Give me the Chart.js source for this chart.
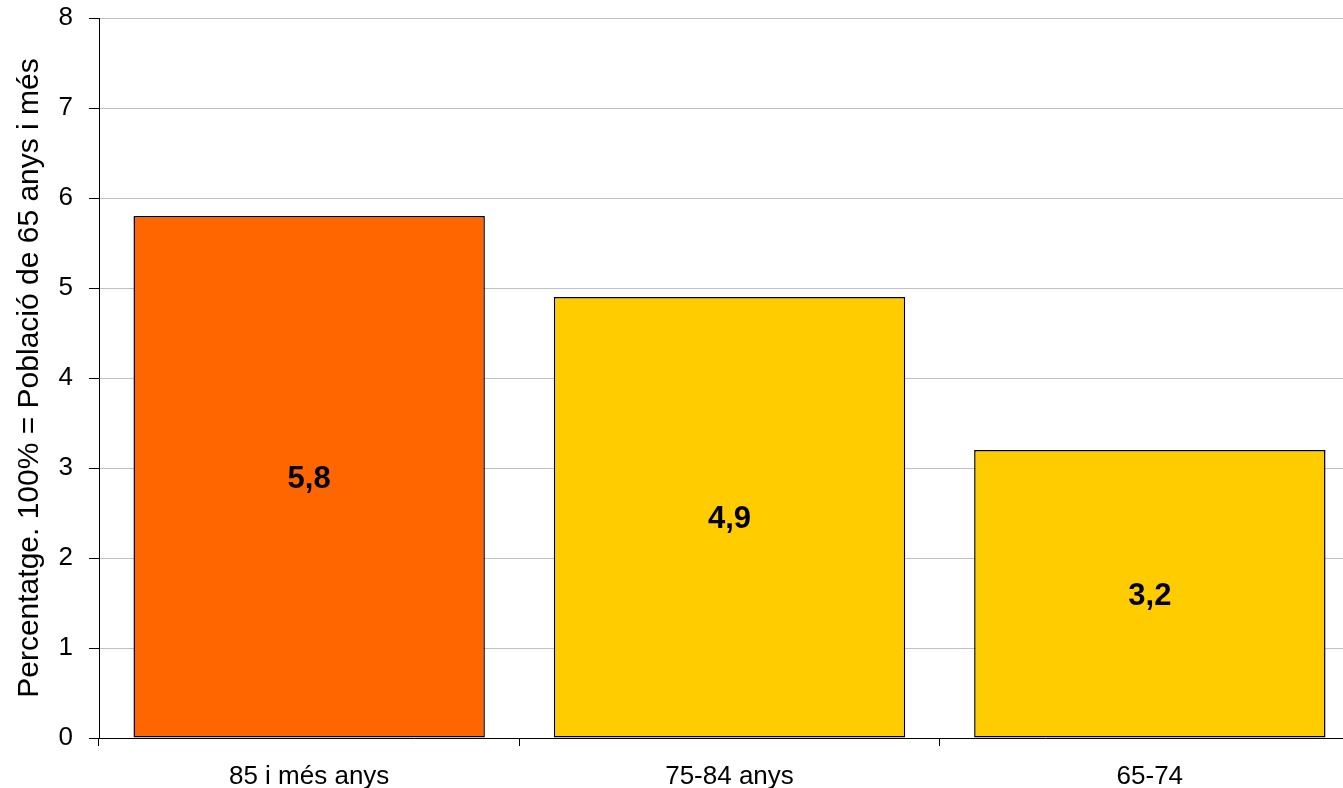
<!DOCTYPE html>
<html>
<head>
<meta charset="utf-8">
<script src="https://cdn.jsdelivr.net/npm/chart.js@4/dist/chart.umd.min.js"></script>
<style>
  html, body { margin: 0; padding: 0; background: #ffffff; overflow: hidden; }
  #wrap { width: 1343px; height: 788px; overflow: hidden; position: relative; }
  canvas { display: block; }
</style>
</head>
<body>
<div id="wrap"><canvas id="c" width="1360" height="788"></canvas></div>
<script>
const categories = ["85 i més anys", "75-84 anys", "65-74"];
const values = [5.8, 4.9, 3.2];
const barColors = ["#FF6600", "#FFCC00", "#FFCC00"];
const valueLabels = ["5,8", "4,9", "3,2"];
const yTitle = "Percentatge. 100% = Població de 65 anys i més";
const yMin = 0, yMax = 8, yStep = 1;

const FONT = "'Liberation Sans', Arial, sans-serif";

const centerLabels = {
  id: 'centerLabels',
  afterDatasetsDraw(chart) {
    const ctx = chart.ctx;
    const meta = chart.getDatasetMeta(0);
    const size = 31;
    ctx.save();
    ctx.font = "bold " + size + "px " + FONT;
    ctx.fillStyle = "#000000";
    ctx.textAlign = "center";
    ctx.textBaseline = "alphabetic";
    meta.data.forEach((bar, i) => {
      const p = bar.getProps(['x', 'y', 'base'], true);
      ctx.fillText(valueLabels[i], p.x, (p.y + p.base) / 2 + size * 0.358);
    });
    ctx.restore();
  }
};

new Chart(document.getElementById('c'), {
  type: 'bar',
  data: {
    labels: categories,
    datasets: [{
      data: values,
      backgroundColor: barColors,
      borderColor: "#000000",
      borderWidth: 1.5,
      borderSkipped: false,
      barPercentage: 0.836,
      categoryPercentage: 1.0
    }]
  },
  options: {
    responsive: false,
    animation: false,
    devicePixelRatio: 1,
    layout: { padding: { top: 18, left: 0, right: 0, bottom: 0 } },
    plugins: {
      legend: { display: false },
      tooltip: { enabled: false },
      title: { display: false }
    },
    scales: {
      x: {
        offset: true,
        grid: {
          display: true,
          offset: true,
          drawOnChartArea: false,
          tickLength: 8,
          color: "#000000",
          tickColor: "#000000"
        },
        border: { display: true, color: "#000000", width: 1 },
        ticks: {
          color: "#000000",
          font: { family: FONT, size: 26 },
          padding: 15,
          maxRotation: 0,
          autoSkip: false
        },
        afterFit(scale) { scale.height = 50; scale.paddingLeft = 0; scale.paddingRight = 0; }
      },
      y: {
        min: yMin,
        max: yMax,
        grid: {
          color: "#c0c0c0",
          tickColor: "#000000",
          tickLength: 10,
          lineWidth: 1
        },
        border: { display: true, color: "#000000", width: 1 },
        ticks: {
          stepSize: yStep,
          color: "#000000",
          font: { family: FONT, size: 26 },
          padding: 16
        },
        title: {
          display: true,
          text: yTitle,
          color: "#000000",
          font: { family: FONT, size: 30 },
          padding: { top: 12, bottom: 0 }
        },
        afterFit(scale) { scale.width = 99; scale.paddingTop = 0; scale.paddingBottom = 0; }
      }
    }
  },
  plugins: [centerLabels]
});
</script>
</body>
</html>
